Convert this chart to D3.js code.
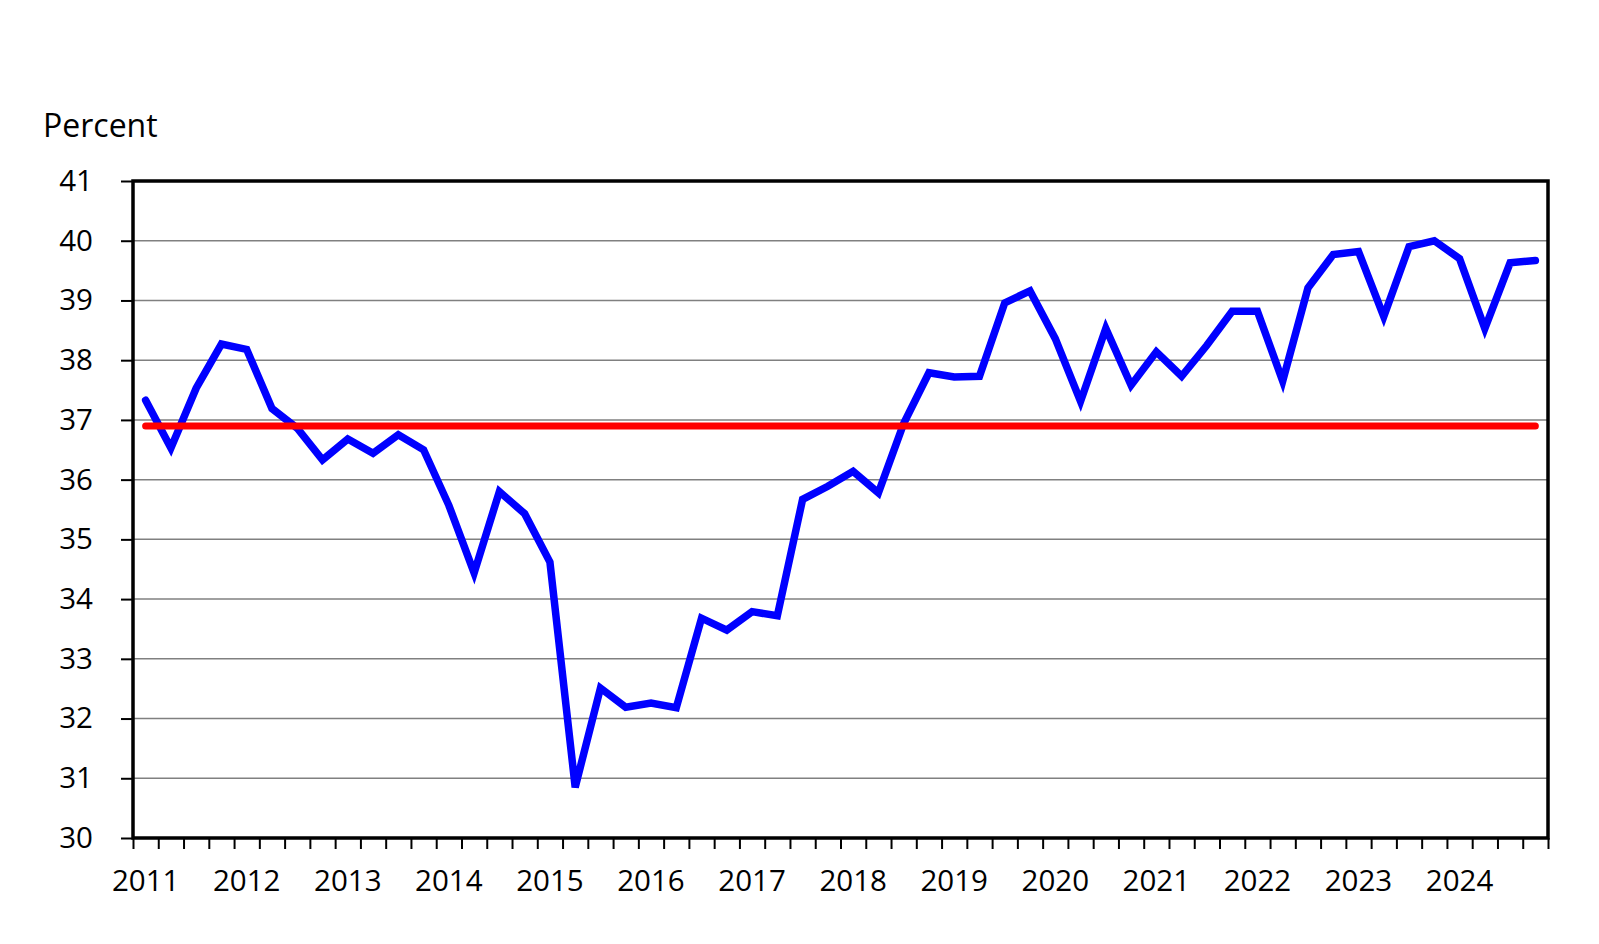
<!DOCTYPE html>
<html>
<head>
<meta charset="utf-8">
<script src="https://cdn.jsdelivr.net/npm/d3@7"></script>
<style>
  body { margin: 0; background: #fff; }
  text { font-family: "Open Sans", sans-serif; fill: #000; }
</style>
</head>
<body>
<div id="chart"></div>
<script>
// Quarterly series, 2011 Q1 .. 2024 Q4
var years = [2011, 2012, 2013, 2014, 2015, 2016, 2017, 2018, 2019, 2020, 2021, 2022, 2023, 2024];
var values = [
  37.33, 36.53, 37.53, 38.27,
  38.18, 37.19, 36.86, 36.33,
  36.68, 36.44, 36.75, 36.50,
  35.57, 34.44, 35.80, 35.43,
  34.62, 30.85, 32.51, 32.19,
  32.26, 32.18, 33.68, 33.48,
  33.79, 33.72, 35.67, 35.89,
  36.14, 35.78, 36.94, 37.79,
  37.72, 37.73, 38.96, 39.16,
  38.36, 37.31, 38.53, 37.58,
  38.14, 37.73, 38.25, 38.82,
  38.82, 37.65, 39.21, 39.77,
  39.82, 38.73, 39.90, 40.00,
  39.70, 38.53, 39.63, 39.67
];
var average = 36.9;
var yTicks = [30, 31, 32, 33, 34, 35, 36, 37, 38, 39, 40, 41];

var width = 1599;
var height = 944;
var margin = {top: 181, right: 51, bottom: 106, left: 133};

var svg = d3.select("#chart")
  .append("svg")
  .attr("width", width)
  .attr("height", height);

var n = values.length;

// x works on quarter index, points sit in the middle of each slot
var x = d3.scaleLinear()
  .domain([0, n])
  .range([margin.left, width - margin.right]);

var y = d3.scaleLinear()
  .domain([30, 41])
  .range([height - margin.bottom, margin.top]);

// Gridlines
svg.append("g")
  .selectAll("line")
  .data(yTicks.slice(1, -1))
  .join("line")
  .attr("x1", x(0))
  .attr("x2", x(n))
  .attr("y1", d => y(d))
  .attr("y2", d => y(d))
  .attr("stroke", "#808080")
  .attr("stroke-width", 1.5);

// Y axis
var yAxis = svg.append("g")
  .attr("transform", `translate(${x(0)},0)`)
  .call(d3.axisLeft(y).tickValues(yTicks).tickSize(12).tickPadding(28));
yAxis.select(".domain").remove();
yAxis.selectAll("line").attr("stroke", "#000").attr("stroke-width", 2);
yAxis.selectAll("text").attr("font-size", 29.5).attr("font-family", "Open Sans");

// X axis: a tick at every quarter boundary
var xAxis = svg.append("g")
  .attr("transform", `translate(0,${y(30)})`)
  .call(d3.axisBottom(x).tickValues(d3.range(0, n + 1)).tickSize(11).tickFormat(""));
xAxis.select(".domain").remove();
xAxis.selectAll("line").attr("stroke", "#000").attr("stroke-width", 2);

// Year labels centred on each Q1 point
svg.append("g")
  .selectAll("text")
  .data(years)
  .join("text")
  .attr("x", (d, i) => x(i * 4 + 0.5))
  .attr("y", 881)
  .attr("dy", "0.35em")
  .attr("text-anchor", "middle")
  .attr("font-size", 29.5)
  .text(d => d);

svg.append("text")
  .attr("x", 43)
  .attr("y", 137)
  .attr("font-size", 32)
  .text("Percent");

// Plot border
svg.append("rect")
  .attr("x", x(0))
  .attr("y", y(41))
  .attr("width", x(n) - x(0))
  .attr("height", y(30) - y(41))
  .attr("fill", "none")
  .attr("stroke", "#000")
  .attr("stroke-width", 3.5);

// Series line
var line = d3.line()
  .x((d, i) => x(i + 0.5))
  .y(d => y(d));

svg.append("path")
  .datum(values)
  .attr("d", line)
  .attr("fill", "none")
  .attr("stroke", "#0000ff")
  .attr("stroke-width", 7.5)
  .attr("stroke-linejoin", "miter")
  .attr("stroke-linecap", "round");

// Average line
svg.append("line")
  .attr("x1", x(0.5))
  .attr("x2", x(n - 0.5))
  .attr("y1", y(average))
  .attr("y2", y(average))
  .attr("stroke", "#ff0000")
  .attr("stroke-width", 7)
  .attr("stroke-linecap", "round");
</script>
</body>
</html>
